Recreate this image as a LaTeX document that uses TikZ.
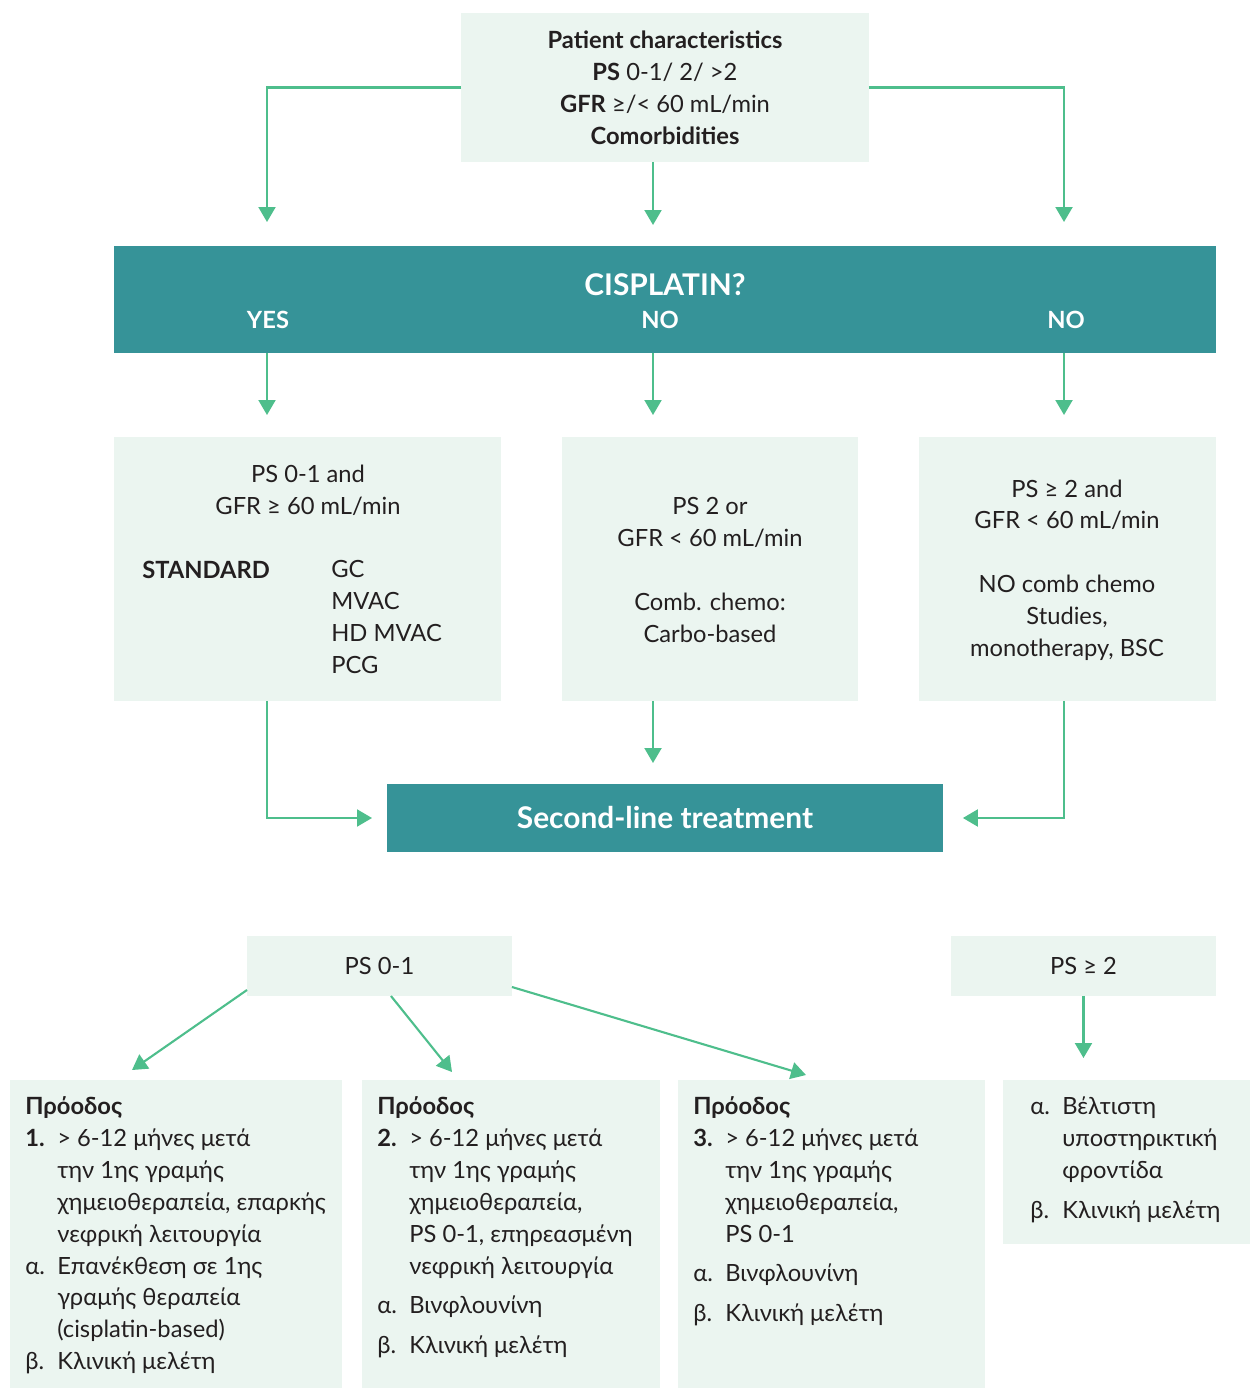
\documentclass[tikz,border=0pt]{standalone}
\usepackage{fontspec}
\setmainfont{Lato}
\usetikzlibrary{arrows.meta}
\definecolor{mintbg}{RGB}{235,245,240}
\definecolor{tealband}{RGB}{54,147,152}
\definecolor{arrowgreen}{RGB}{78,190,140}
\definecolor{inkgray}{RGB}{35,31,32}
\newcommand{\itm}[1]{\makebox[0.64cm][l]{#1}}
\newcommand{\ind}{\hspace*{0.64cm}}

\begin{document}
\begin{tikzpicture}[x=0.02cm, y=-0.02cm,
    every node/.style={text=inkgray, font=\fontsize{13.5}{18.14}\selectfont},
    boldtxt/.style={font=\fontsize{13.5}{18.14}\selectfont\bfseries},
    panel/.style={fill=mintbg, inner sep=0pt, outer sep=0pt, anchor=north west},
    band/.style={fill=tealband, inner sep=0pt, outer sep=0pt, anchor=north west},
    txt/.style={align=left, anchor=north west, inner sep=0pt},
    arr/.style={arrowgreen, line width=1.2pt, -{Triangle[width=0.34cm, length=0.3cm]}}]
    \useasboundingbox (0,0) rectangle (1250,1388);

    % Patient box
    \node (char) [panel, minimum width=8.16cm, minimum height=2.98cm, align=center] at (461,13)
        {\textbf{Patient characteristics}\\ \textbf{PS} 0-1/ 2/ >2\\ \textbf{GFR} ≥/< 60 mL/min\\ \textbf{Comorbidities}};

    % Cisplatin band
    \node (cis) [band, minimum width=22.04cm, minimum height=2.14cm] at (114,246) {};
    \node (cisq) [text=white, font=\fontsize{17}{20}\selectfont\bfseries] at (665,285) {CISPLATIN?};
    \foreach \x/\txt/\nm in {268/YES/yes, 660/NO/nomid, 1066/NO/noright} {
        \node (\nm) [text=white, boldtxt] at (\x,320) {\txt};
    }

    % Columns
    \coordinate (c1) at (267,0);
    \coordinate (c2) at (653,0);
    \coordinate (c3) at (1064,0);

    \draw[arr, shorten >=0.48cm] (char.west) -| (cis.north -| c1);
    \draw[arr, shorten >=0.42cm] (char.south -| c2) -- (cis.north -| c2);
    \draw[arr, shorten >=0.48cm] (char.east) -| (cis.north -| c3);

    % First-line boxes
    \node (std) [panel, minimum width=7.74cm, minimum height=5.28cm] at (114,437) {};
    \node (carbo) [panel, minimum width=5.92cm, minimum height=5.28cm] at (562,437) {};
    \node (nocomb) [panel, minimum width=5.94cm, minimum height=5.28cm] at (919,437) {};

    \foreach \nm/\c in {std/c1, carbo/c2, nocomb/c3} {
        \draw[arr, shorten >=0.44cm] (cis.south -| \c) -- (\nm.north -| \c);
    }

    \node (stdcond) [align=center] at (308,490) {PS 0-1 and\\ GFR ≥ 60 mL/min};
    \node (stdlab) [boldtxt, anchor=west, inner sep=0pt] at (142,570) {STANDARD};
    \node (stdlist) [align=left, anchor=west, inner sep=0pt] at (331,617) {GC\\ MVAC\\ HD MVAC\\ PCG};
    \node (carbotxt) [align=center] at (710,570)
        {PS 2 or\\ GFR < 60 mL/min\\[18.14pt] Comb. chemo:\\ Carbo-based};
    \node (nocombtxt) [align=center] at (1067,570)
        {PS ≥ 2 and\\ GFR < 60 mL/min\\[18.14pt] NO comb chemo\\ Studies,\\ monotherapy, BSC};

    % Second line
    \node (sec) [band, minimum width=11.12cm, minimum height=1.36cm, text=white,
        font=\fontsize{17}{20}\selectfont\bfseries] at (387,784) {Second-line treatment};

    \draw[arr, shorten >=0.3cm] (std.south -| c1) |- (sec.west);
    \draw[arr, shorten >=0.42cm] (carbo.south -| c2) -- (sec.north -| c2);
    \draw[arr, shorten >=0.4cm] (nocomb.south -| c3) |- (sec.east);

    % Progression
    \node (ps01) [panel, minimum width=5.3cm, minimum height=1.2cm] at (247,936) {PS 0-1};
    \node (ps2) [panel, minimum width=5.3cm, minimum height=1.2cm] at (951,936) {PS ≥ 2};

    \node (p1) [panel, minimum width=6.64cm, minimum height=6.16cm] at (10,1080) {};
    \node (p2) [panel, minimum width=5.96cm, minimum height=6.16cm] at (362,1080) {};
    \node (p3) [panel, minimum width=6.14cm, minimum height=6.16cm] at (678,1080) {};
    \node (p4) [panel, minimum width=4.94cm, minimum height=3.28cm] at (1003,1080) {};

    \coordinate (e1) at (132,1070);
    \coordinate (e2) at (452,1072);
    \coordinate (e3) at (806,1075);
    \draw[arr] ([yshift=0.12cm]ps01.south west) -- (e1);
    \draw[arr] ([xshift=0.23cm]ps01.south) -- (e2);
    \draw[arr] ([yshift=0.18cm]ps01.south east) -- (e3);
    \draw[arr, shorten >=0.44cm] (ps2.south) -- (ps2.south |- p4.north);

    \node (p1txt) [txt] at (25,1092)
        {\strut\textbf{Πρόοδος}\\
         \itm{\textbf{1.}}> 6-12 μήνες μετά\\
         \ind την 1ης γραμής\\
         \ind χημειοθεραπεία, επαρκής\\
         \ind νεφρική λειτουργία\\
         \itm{α.}Επανέκθεση σε 1ης\\
         \ind γραμής θεραπεία\\
         \ind (cisplatin-based)\\
         \itm{β.}Κλινική μελέτη};
    \node (p2txt) [txt] at (377,1092)
        {\strut\textbf{Πρόοδος}\\
         \itm{\textbf{2.}}> 6-12 μήνες μετά\\
         \ind την 1ης γραμής\\
         \ind χημειοθεραπεία,\\
         \ind PS 0-1, επηρεασμένη\\
         \ind νεφρική λειτουργία\\[4.5pt]
         \itm{α.}Βινφλουνίνη\\[4.5pt]
         \itm{β.}Κλινική μελέτη};
    \node (p3txt) [txt] at (693,1092)
        {\strut\textbf{Πρόοδος}\\
         \itm{\textbf{3.}}> 6-12 μήνες μετά\\
         \ind την 1ης γραμής\\
         \ind χημειοθεραπεία,\\
         \ind PS 0-1\\[4.5pt]
         \itm{α.}Βινφλουνίνη\\[4.5pt]
         \itm{β.}Κλινική μελέτη};
    \node (p4txt) [txt] at (1030,1092)
        {\strut\itm{α.}Βέλτιστη\\
         \ind υποστηρικτική\\
         \ind φροντίδα\\[4.5pt]
         \itm{β.}Κλινική μελέτη};
\end{tikzpicture}
\end{document}
